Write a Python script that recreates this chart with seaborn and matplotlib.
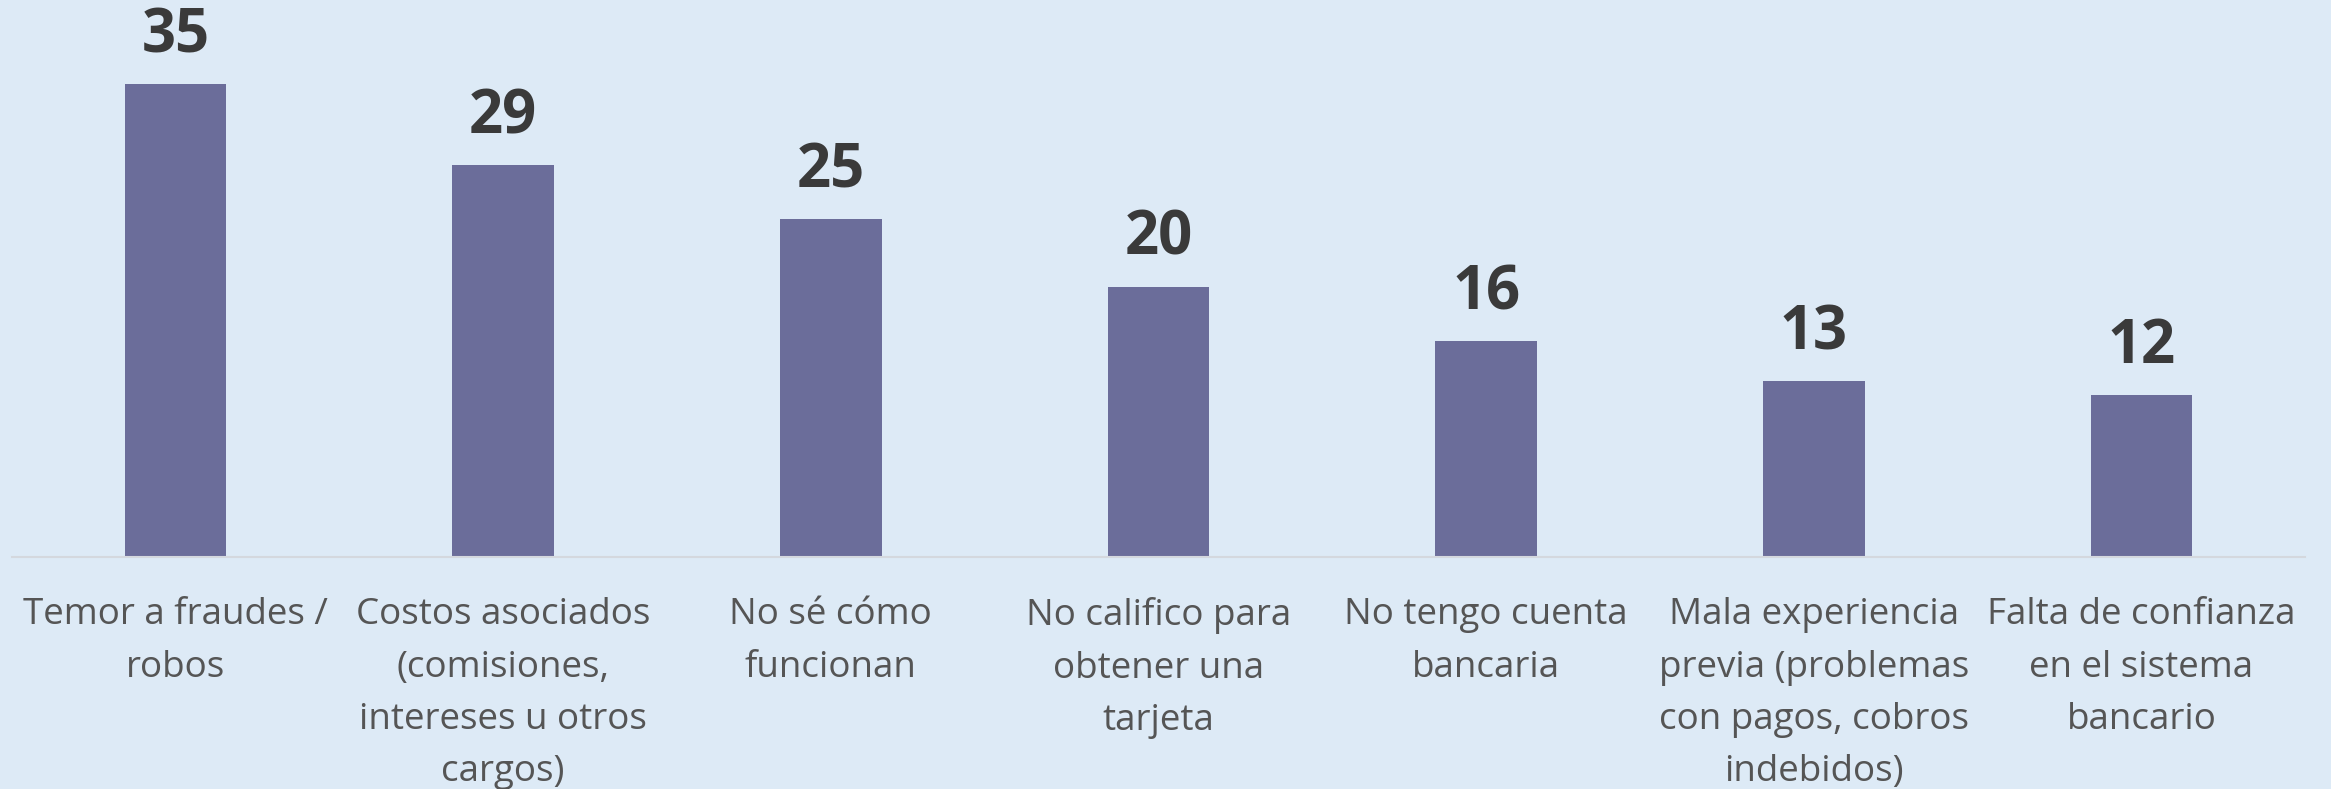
import pandas as pd
import seaborn as sns
import matplotlib.pyplot as plt

# Values
categories = [
    'Temor a fraudes /\nrobos',
    'Costos asociados\n(comisiones,\nintereses u otros\ncargos)',
    'No sé cómo\nfuncionan',
    'No califico para\nobtener una\ntarjeta',
    'No tengo cuenta\nbancaria',
    'Mala experiencia\nprevia (problemas\ncon pagos, cobros\nindebidos)',
    'Falta de confianza\nen el sistema\nbancario',
]
values = [35, 29, 25, 20, 16, 13, 12]

bg_color = '#DDEAF6'
bar_color = '#6B6D9A'

sns.set_style('white', {'axes.facecolor': bg_color, 'figure.facecolor': bg_color})
plt.rcParams['font.family'] = ['Open Sans', 'DejaVu Sans']

df = pd.DataFrame({'motivo': categories, 'pct': values})

fig = plt.figure(figsize=(23.31, 7.89), dpi=100)
ax = fig.add_axes([0.005, 0.294, 0.984, 0.706])

sns.barplot(data=df, x='motivo', y='pct', color=bar_color, width=0.31,
            saturation=1, linewidth=0, ax=ax)

ax.set_xlim(-0.5, len(categories) - 0.5)
ax.set_ylim(0, 41.2)

# Value labels above the bars
ax.bar_label(ax.containers[0], labels=[str(v) for v in values], padding=12,
             fontsize=43, fontweight='bold', color='#3A3A3A')

ax.set_xlabel('')
ax.set_ylabel('')
ax.set_yticks([])
ax.tick_params(axis='x', length=0, pad=29, labelsize=26.5, labelcolor='#555555')
for lbl in ax.get_xticklabels():
    lbl.set_linespacing(1.6)
    lbl.set_verticalalignment('top')

for side in ['top', 'left', 'right']:
    ax.spines[side].set_visible(False)
ax.spines['bottom'].set_color('#D4D8DE')
ax.spines['bottom'].set_linewidth(1.5)

fig.savefig('out.png', dpi=100, facecolor=bg_color)
